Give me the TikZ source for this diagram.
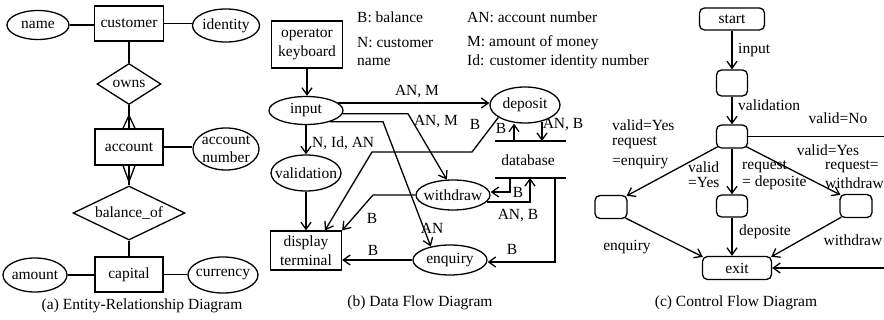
\documentclass[tikz,border=0pt]{standalone}
\usepackage{fontspec}
\setmainfont{Liberation Serif}
\usetikzlibrary{arrows.meta,shapes.geometric,calc}
\begin{document}
\begin{tikzpicture}[x=1pt,y=-1pt,
  every node/.style={font=\fontsize{15.5}{19}\selectfont, inner sep=0pt},
  ln/.style={line width=1.3pt},
  arr/.style={line width=1.3pt,-{Straight Barb[length=7pt,width=10pt]}},
  ent/.style={draw,line width=1.3pt,rectangle},
  att/.style={draw,line width=1.3pt,ellipse},
  rel/.style={draw,line width=1.3pt,diamond,aspect=2},
  st/.style={draw,line width=1.3pt,rounded corners=5pt},
]
\useasboundingbox[fill=white] (0,0) rectangle (884,320);

% ---------------- (a) ER diagram ----------------
\node[att,minimum width=62pt,minimum height=29pt,label=center:name] (name) at (38,25) {};
\node[ent,minimum width=69pt,minimum height=35pt] (customer) at (129,23.5) {customer};
\node[att,minimum width=67pt,minimum height=33pt,label=center:identity] (identity) at (226,25.5) {};
\node[rel,minimum width=64pt,minimum height=41pt] (owns) at (129,84) {owns};
\node[ent,minimum width=68pt,minimum height=36pt] (account) at (129,147) {account};
\node[att,minimum width=66pt,minimum height=42pt] (accnum) at (226,149) {};
\node[align=center,font=\fontsize{15.5}{18}\selectfont] (accnumtxt) at (accnum) {account\\number};
\node[rel,minimum width=112pt,minimum height=54pt] (balance) at (129,213) {balance\_of};
\node[ent,minimum width=68pt,minimum height=35pt] (capital) at (129,274.5) {capital};
\node[att,minimum width=64pt,minimum height=34pt,label=center:amount] (amount) at (35,275) {};
\node[att,minimum width=70pt,minimum height=36pt,label=center:currency] (currency) at (223,275) {};

\draw[ln] (name.east) -- (name.east -| customer.west);
\draw[ln] (customer.east) -- (customer.east -| identity.west);
\draw[ln] (customer.south) -- (owns.north);
\draw[ln] (owns.south) -- (account.north);
\draw[ln] ($(account.north)+(-6,0)$) -- ($(account.north)+(0,-13)$) -- ($(account.north)+(6,0)$);
\draw[ln] (account.south) -- (balance.north);
\draw[ln] ($(account.south)+(-6,0)$) -- ($(account.south)+(0,16)$) -- ($(account.south)+(6,0)$);
\draw[ln] (account.east) -- (account.east -| accnum.west);
\draw[ln] (balance.south) -- (capital.north);
\draw[ln] (amount.east) -- (amount.east -| capital.west);
\draw[ln] (capital.east) -- (capital.east -| currency.west);

\node (capa) at (142,306) {(a) Entity-Relationship Diagram};

% ---------------- (b) Data flow diagram ----------------
\node[ent,minimum width=71pt,minimum height=47pt,align=center] (keyboard) at (307,44.5) {operator\\keyboard};
\node[att,minimum width=74pt,minimum height=28pt,label=center:input] (input) at (306,110.5) {};
\node[att,minimum width=70pt,minimum height=36pt,label=center:validation] (validation) at (306,173) {};
\node[ent,minimum width=71pt,minimum height=39pt,align=center] (display) at (306,250.5) {display\\terminal};
\node[att,minimum width=70pt,minimum height=36pt,label=center:deposit] (deposit) at (525,105) {};
\node[att,minimum width=74pt,minimum height=30pt,label=center:withdraw] (withdraw) at (453,195) {};
\node[att,minimum width=74pt,minimum height=30pt,label=center:enquiry] (enquiry) at (450,260) {};
\node (db) at (528,160) {database};
\coordinate (dbTL) at (495,141); \coordinate (dbTR) at (566,141);
\coordinate (dbBL) at (495,178); \coordinate (dbBR) at (566,178);
\draw[ln] (dbTL) -- (dbTR);
\draw[ln] (dbBL) -- (dbBR);

% legend
\node[anchor=west] (lB) at (357,17) {B: balance};
\node[anchor=west] (lN) at (357,43) {N: customer};
\node[anchor=west] (lN2) at (357,62) {name};
\node[anchor=west] (lAN) at (467,17) {AN: account number};
\node[anchor=west] (lM) at (467,43) {M: amount of money};
\node[anchor=west] (lId) at (467,62) {Id: customer identity number};

% flows
\draw[arr] (keyboard.south) -- (keyboard.south |- input.north);
\draw[arr] (input.south) -- (validation.north);
\node[anchor=west] (lNIdAN) at (312,143) {N, Id, AN};
\draw[arr] (validation.south) -- (display.north);

\draw[arr] (input.13) -- (input.13 -| deposit.west);
\node (lANM1) at (417,92) {AN, M};

\coordinate (k2) at (408,113);
\draw[arr] (input.-5) -- (input.-5 -| k2) -- (withdraw.112);
\node (lANM2) at (436,122) {AN, M};

\coordinate (k3) at (383,123);
\draw[arr] (input.-25) -- (input.-25 -| k3) -- (enquiry.145);
\node (lAN1) at (432,228) {AN};

\coordinate (k4a) at (472,152);
\coordinate (k4b) at (372,152);
\draw[arr] (deposit.205) -- (k4a) -- (k4b) -- ($(display.north)+(19,0)$);
\node (lB1) at (475,124) {B};

\coordinate (up1) at (514,0);
\coordinate (dn1) at (542,0);
\draw[arr] (up1 |- dbTL) -- (up1 |- deposit.south);
\draw[arr] ($(dn1 |- deposit.south)+(0,-2)$) -- (dn1 |- dbTL);
\node (lB2) at (501,128) {B};
\node (lANB1) at (563,125) {AN, B};

\coordinate (w1) at (510,192);
\draw[arr] (w1 |- dbBL) -- (w1) -- (w1 -| withdraw.east);
\node (lB3) at (518,192) {B};

\coordinate (w2) at (530,202);
\draw[arr] ($(w2 -| withdraw.east)+(-3.5,0)$) -- (w2) -- (w2 |- dbBL);
\node (lANB2) at (518,216) {AN, B};

\coordinate (w3) at (373,195);
\draw[arr] (withdraw.west) -- (w3) -- (display.north east);
\node (lB4) at (372,218) {B};

\coordinate (e1) at (555,262);
\draw[arr] (e1 |- dbBL) -- (e1) -- (e1 -| enquiry.east);
\node (lB5) at (512,249) {B};

\draw[arr] (enquiry.west) -- (enquiry.west -| display.east);
\node (lB6) at (373,250) {B};

\node (capb) at (420,303) {(b) Data Flow Diagram};

% ---------------- (c) Control flow diagram ----------------
\node[st,minimum width=65pt,minimum height=22pt] (start) at (732,19) {start};
\node[st,minimum width=31pt,minimum height=26pt] (s1) at (732,83) {};
\node[st,minimum width=31pt,minimum height=23pt] (s2) at (732,136.5) {};
\node[st,minimum width=32pt,minimum height=23pt] (enq) at (611,207) {};
\node[st,minimum width=31pt,minimum height=22pt] (dep) at (732,206) {};
\node[st,minimum width=32pt,minimum height=23pt] (wd) at (856,206) {};
\node[st,minimum width=69pt,minimum height=23pt] (exit) at (737,268) {exit};
\coordinate (R1) at (884,132);
\coordinate (R2) at (884,268);

\draw[arr] (start.south) -- (s1.north);
\draw[arr] (s1.south) -- (s2.north);
\draw[ln] (s2.east) -- (s2.east -| R1);
\draw[arr] ($(s2.south west)+(2,-2)$) -- ($(enq.north east)+(-1,1)$);
\draw[arr] (s2.south) -- (dep.north);
\draw[arr] ($(s2.south east)+(-2,-2)$) -- ($(wd.north west)+(1,1)$);
\draw[arr] ($(enq.south east)+(-2,-1)$) -- ($(exit.north west)+(1,1)$);
\draw[arr] (dep.south) -- (dep.south |- exit.north);
\draw[arr] ($(wd.south west)+(2,-1)$) -- ($(exit.north east)+(-1,1)$);
\draw[arr] (R2) -- (exit.east);

\node[anchor=west] (cin) at (738,50) {input};
\node[anchor=west] (cval) at (738,105) {validation};
\node (cno) at (838,118) {valid=No};
\node[anchor=west] (cl1) at (612,125) {valid=Yes};
\node[anchor=west] (cl2) at (612,143) {request};
\node[anchor=west] (cl3) at (612,162) {=enquiry};
\node[anchor=west] (cm1) at (688,167) {valid};
\node[anchor=west] (cm2) at (688,183) {=Yes};
\node[anchor=west] (cd1) at (742,167) {request};
\node[anchor=west] (cd2) at (742,183) {= deposite};
\node (cr1) at (828,150) {valid=Yes};
\node[anchor=west] (cr2) at (825,167) {request=};
\node[anchor=west] (cr3) at (825,183) {withdraw};
\node (ce) at (627,247) {enquiry};
\node (cde) at (765,232) {deposite};
\node (cw) at (853,240) {withdraw};

\node (capc) at (736,303) {(c) Control Flow Diagram};
\end{tikzpicture}
\end{document}
